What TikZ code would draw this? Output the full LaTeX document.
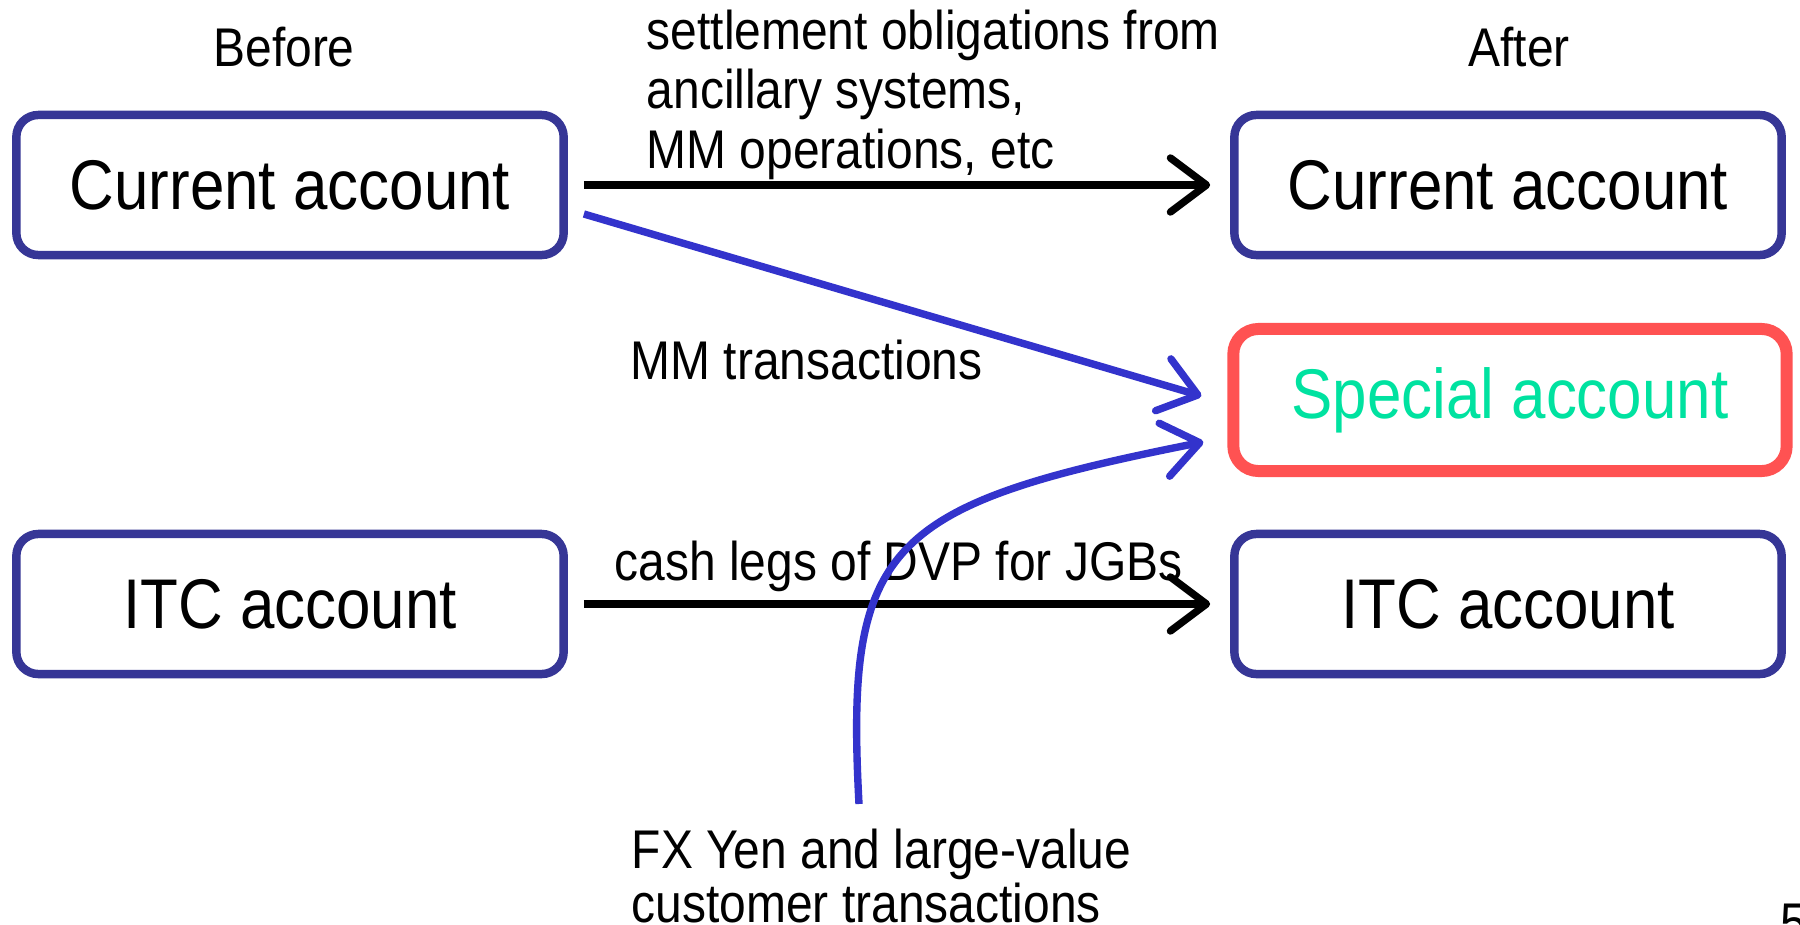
\documentclass[tikz,border=0pt]{standalone}
\usepackage{fontspec}
\setmainfont{Liberation Sans}[FakeStretch=0.88]
\usetikzlibrary{arrows.meta}

\definecolor{boxblue}{RGB}{54,54,150}
\definecolor{lineblue}{RGB}{51,51,204}
\definecolor{specred}{RGB}{255,82,82}
\definecolor{specgreen}{RGB}{0,226,160}

\tikzset{
  acct/.style={draw=boxblue, line width=2.4pt, rounded corners=0.22cm,
    minimum width=5.47cm, minimum height=1.40cm, font=\fontsize{20}{24}\selectfont},
  specbox/.style={acct, draw=specred, line width=3.4pt, rounded corners=0.25cm,
    minimum width=5.53cm, minimum height=1.42cm, text=specgreen},
  note/.style={inner sep=0pt, align=left, font=\fontsize{15.5}{17}\selectfont},
  flow/.style={line width=2.1pt, -{Straight Barb[length=3.6mm,width=5.4mm,round]}},
}

\begin{document}
\begin{tikzpicture}[x=0.01cm, y=-0.01cm]
\useasboundingbox (0,0) rectangle (1800,924);
\fill[white] (0,0) rectangle (1800,924);

% accounts before and after
\node[note, anchor=base] (before) at (284,66) {Before};
\node[note, anchor=base] (after) at (1519,66) {After};
\node[acct] (curB) at (290,185) {Current account};
\node[acct] (curA) at (1508,185) {Current account};
\node[specbox] (spec) at (1510,400) {Special account};
\node[acct] (itcB) at (290,604) {ITC account};
\node[acct] (itcA) at (1508,604) {ITC account};

% what moves where
\node[note, anchor=north west] (settle) at (646,9) {settlement obligations from\\ancillary systems,\\MM operations, etc};
\node[note, anchor=base west] (mm) at (630,379) {MM transactions};
\node[note, anchor=base west] (dvp) at (614,580) {cash legs of DVP for JGBs};
\node[note, anchor=north west, font=\fontsize{15.5}{15.5}\selectfont] (fx) at (631,828)
  {FX Yen and large-value\\customer transactions};
\node[note, anchor=north west] (page) at (1780,903) {5};
\coordinate (fxtail) at (859,804);

\draw[flow] ([shift={(16,0)}]curB.east) -- ([shift={(-20,0)}]curA.west);
\draw[flow] ([shift={(16,0)}]itcB.east) -- ([shift={(-20,0)}]itcA.west);
\draw[flow, lineblue] ([shift={(16,29)}]curB.east) -- ([shift={(-26,-4)}]spec.west);
\draw[flow, lineblue] (fxtail) .. controls (845,545) and (885,505) .. ([shift={(-24,42)}]spec.west);
\end{tikzpicture}
\end{document}
